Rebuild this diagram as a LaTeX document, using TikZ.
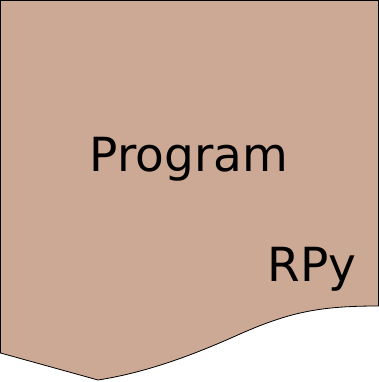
\documentclass[tikz,border=0pt]{standalone}
\usepackage{fontspec}
\setmainfont{DejaVu Sans}
\definecolor{docfill}{RGB}{204,169,149}
\tikzset{
  doc/.style={draw=black,fill=docfill,line width=0.8pt},
  label/.style={anchor=base,inner sep=0pt,font=\fontsize{47}{56}\selectfont}
}

\begin{document}
\begin{tikzpicture}[x=1pt,y=1pt]
\useasboundingbox (0,0) rectangle (379,382);
\draw[doc] (0.5,381.5) -- (378.5,381.5) -- (378.5,76)
  .. controls (320,76) and (290,70) .. (240,48)
  .. controls (200,30) and (150,10) .. (98,2)
  -- (0.5,29) -- cycle;
\path (189,210) node[label](prog) {Program}
      (312,100) node[label](rpy) {RPy};
\end{tikzpicture}
\end{document}
